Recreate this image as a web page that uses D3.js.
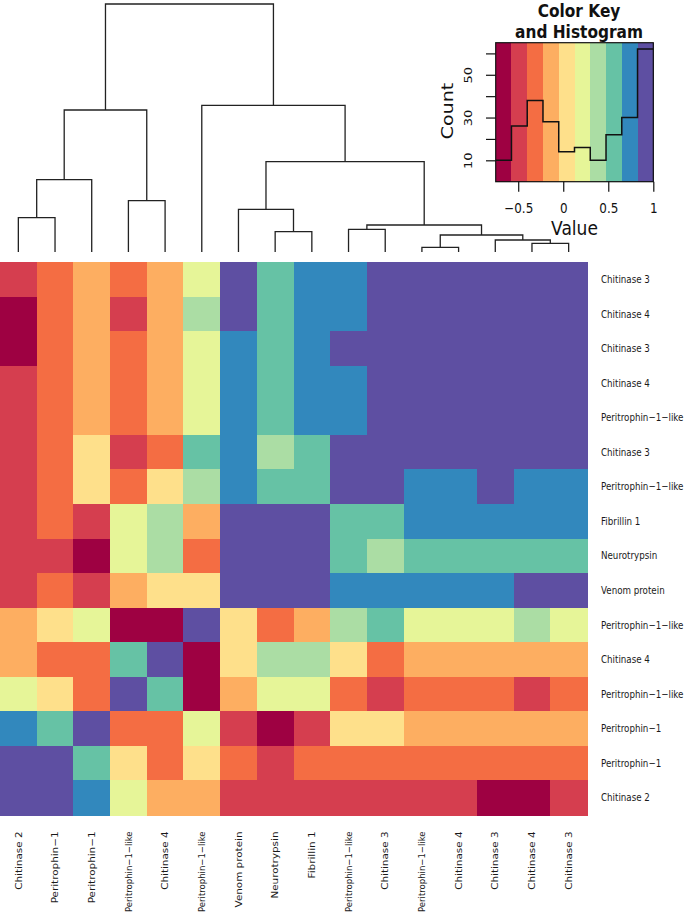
<!DOCTYPE html>
<html>
<head>
<meta charset="utf-8">
<script src="https://cdn.jsdelivr.net/npm/d3@7"></script>
<style>
  html, body { margin: 0; padding: 0; background: #fff; }
  svg { display: block; font-family: "DejaVu Sans", sans-serif; }
</style>
</head>
<body>
<svg id="chart" width="685" height="913"></svg>
<script>
// ---------------- data ----------------
const colLabels = ["Chitinase 2", "Peritrophin\u22121", "Peritrophin\u22121", "Peritrophin\u22121\u2212like",
  "Chitinase 4", "Peritrophin\u22121\u2212like", "Venom protein", "Neurotrypsin", "Fibrillin 1",
  "Peritrophin\u22121\u2212like", "Chitinase 3", "Peritrophin\u22121\u2212like", "Chitinase 4",
  "Chitinase 3", "Chitinase 4", "Chitinase 3"];

const rowLabels = ["Chitinase 3", "Chitinase 4", "Chitinase 3", "Chitinase 4", "Peritrophin\u22121\u2212like",
  "Chitinase 3", "Peritrophin\u22121\u2212like", "Fibrillin 1", "Neurotrypsin", "Venom protein",
  "Peritrophin\u22121\u2212like", "Chitinase 4", "Peritrophin\u22121\u2212like", "Peritrophin\u22121",
  "Peritrophin\u22121", "Chitinase 2"];

// correlation values, rows top->bottom, columns left->right (as displayed)
const values = [
  [-0.49,-0.31,-0.14,-0.31,-0.14, 0.21, 0.91, 0.56, 0.74, 0.74, 0.91, 0.91, 0.91, 0.91, 0.91, 1.00],
  [-0.66,-0.31,-0.14,-0.49,-0.14, 0.39, 0.91, 0.56, 0.74, 0.74, 0.91, 0.91, 0.91, 0.91, 1.00, 0.91],
  [-0.66,-0.31,-0.14,-0.31,-0.14, 0.21, 0.74, 0.56, 0.74, 0.91, 0.91, 0.91, 0.91, 1.00, 0.91, 0.91],
  [-0.49,-0.31,-0.14,-0.31,-0.14, 0.21, 0.74, 0.56, 0.74, 0.74, 0.91, 0.91, 1.00, 0.91, 0.91, 0.91],
  [-0.49,-0.31,-0.14,-0.31,-0.14, 0.21, 0.74, 0.56, 0.74, 0.74, 0.91, 1.00, 0.91, 0.91, 0.91, 0.91],
  [-0.49,-0.31, 0.04,-0.49,-0.31, 0.56, 0.74, 0.39, 0.56, 0.91, 1.00, 0.91, 0.91, 0.91, 0.91, 0.91],
  [-0.49,-0.31, 0.04,-0.31, 0.04, 0.39, 0.74, 0.56, 0.56, 1.00, 0.91, 0.74, 0.74, 0.91, 0.74, 0.74],
  [-0.49,-0.31,-0.49, 0.21, 0.39,-0.14, 0.91, 0.91, 1.00, 0.56, 0.56, 0.74, 0.74, 0.74, 0.74, 0.74],
  [-0.49,-0.49,-0.66, 0.21, 0.39,-0.31, 0.91, 1.00, 0.91, 0.56, 0.39, 0.56, 0.56, 0.56, 0.56, 0.56],
  [-0.49,-0.31,-0.49,-0.14, 0.04, 0.04, 1.00, 0.91, 0.91, 0.74, 0.74, 0.74, 0.74, 0.74, 0.91, 0.91],
  [-0.14, 0.04, 0.21,-0.66,-0.66, 1.00, 0.04,-0.31,-0.14, 0.39, 0.56, 0.21, 0.21, 0.21, 0.39, 0.21],
  [-0.14,-0.31,-0.31, 0.56, 1.00,-0.66, 0.04, 0.39, 0.39, 0.04,-0.31,-0.14,-0.14,-0.14,-0.14,-0.14],
  [ 0.21, 0.04,-0.31, 1.00, 0.56,-0.66,-0.14, 0.21, 0.21,-0.31,-0.49,-0.31,-0.31,-0.31,-0.49,-0.31],
  [ 0.74, 0.56, 1.00,-0.31,-0.31, 0.21,-0.49,-0.66,-0.49, 0.04, 0.04,-0.14,-0.14,-0.14,-0.14,-0.14],
  [ 0.91, 1.00, 0.56, 0.04,-0.31, 0.04,-0.31,-0.49,-0.31,-0.31,-0.31,-0.31,-0.31,-0.31,-0.31,-0.31],
  [ 1.00, 0.91, 0.74, 0.21,-0.14,-0.14,-0.49,-0.49,-0.49,-0.49,-0.49,-0.49,-0.49,-0.66,-0.66,-0.49]
];

// column dendrogram (hclust style: negative = leaf column number, positive = earlier merge)
const merges = [[-12,-13],[-15,-16],[-14,2],[1,3],[-8,-9],[-10,-11],[6,4],[-1,-2],
  [-7,5],[-4,-5],[8,-3],[9,7],[11,10],[-6,12],[13,14]];
const mergeHeights = [0.047,0.087,0.12,0.17,0.203,0.227,0.27,0.343,0.427,0.513,0.723,0.903,1.42,1.467,2.48];

const keyBreaks = [-0.75,-0.575,-0.4,-0.225,-0.05,0.125,0.3,0.475,0.65,0.825,1];
const palette = ["#9e0142","#d53e4f","#f46d43","#fdae61","#fee08b","#e6f598","#abdda4","#66c2a5","#3288bd","#5e4fa2"];
const valueTicks = [-0.5, 0, 0.5, 1];
const countTicks = [10, 20, 30, 40, 50, 60];
const countTickLabels = [10, 30, 50];

// ---------------- drawing ----------------
const SQ = 0.855; // horizontal text squash of the reference
const svg = d3.select("#chart");
const n = colLabels.length;

const x = d3.scaleBand().domain(d3.range(n)).range([0, 587]);
const y = d3.scaleBand().domain(d3.range(rowLabels.length)).range([262, 815]);
const color = d3.scaleThreshold().domain(keyBreaks.slice(1, -1)).range(palette);

// heatmap cells
const cells = [];
values.forEach((row, r) => row.forEach((v, c) => cells.push({r, c, v})));
svg.append("g").attr("shape-rendering", "crispEdges")
  .selectAll("rect").data(cells).join("rect")
  .attr("x", d => x(d.c)).attr("y", d => y(d.r))
  .attr("width", x.bandwidth() + 0.5).attr("height", y.bandwidth() + 0.5)
  .attr("fill", d => color(d.v));

// row labels
svg.append("g").selectAll("text").data(rowLabels).join("text")
  .attr("transform", (d, i) => `translate(601,${y(i) + y.bandwidth() / 2}) scale(${SQ},1)`)
  .attr("dy", "0.36em").attr("font-size", 10.2).attr("fill", "#1a1a1a")
  .text(d => d);

// column labels
const colText = svg.append("g").selectAll("text").data(colLabels).join("text")
  .attr("transform", (d, i) => `translate(${x(i) + x.bandwidth() / 2},831.5) scale(${SQ},1) rotate(-90)`)
  .attr("dy", "0.36em").attr("text-anchor", "end").attr("font-size", 10.4).attr("fill", "#1a1a1a")
  .text(d => d);
const maxColLen = 913 - 831.5 - 1;
colText.each(function () {
  const len = this.getComputedTextLength();
  if (len > maxColLen) {
    d3.select(this).attr("textLength", maxColLen).attr("lengthAdjust", "spacingAndGlyphs");
  }
});

// dendrogram
const hy = d3.scaleLinear().domain([0, d3.max(mergeHeights)]).range([252, 4]);
const nodes = [];
const pos = c => c < 0 ? {x: x(-c - 1) + x.bandwidth() / 2, h: 0} : nodes[c - 1];
const dPaths = [];
merges.forEach((m, k) => {
  const a = pos(m[0]), b = pos(m[1]), h = mergeHeights[k];
  nodes.push({x: (a.x + b.x) / 2, h});
  const p = d3.path();
  p.moveTo(a.x, hy(a.h)); p.lineTo(a.x, hy(h)); p.lineTo(b.x, hy(h)); p.lineTo(b.x, hy(b.h));
  dPaths.push(p.toString());
});
svg.append("g").selectAll("path").data(dPaths).join("path")
  .attr("d", d => d).attr("fill", "none").attr("stroke", "#222").attr("stroke-width", 1.3);

// ---------------- color key ----------------
const kx = d3.scaleLinear().domain([keyBreaks[0], keyBreaks[keyBreaks.length - 1]]).range([495.7, 653.3]);
const ky = d3.scaleLinear().domain([0, 65]).range([181.7, 42.7]);
const key = svg.append("g");

key.append("g").attr("shape-rendering", "crispEdges").selectAll("rect").data(palette).join("rect")
  .attr("x", (d, i) => kx(keyBreaks[i])).attr("width", (d, i) => kx(keyBreaks[i + 1]) - kx(keyBreaks[i]) + 0.4)
  .attr("y", ky(65)).attr("height", ky(0) - ky(65)).attr("fill", d => d);

// histogram of values
const bins = d3.bin().domain([keyBreaks[0], keyBreaks[keyBreaks.length - 1]])
  .thresholds(keyBreaks.slice(1, -1))(values.flat());
const stepPts = bins.map(b => [b.x0, b.length]);
stepPts.push([bins[bins.length - 1].x1, bins[bins.length - 1].length]);
const stepLine = d3.line().x(d => kx(d[0])).y(d => ky(d[1])).curve(d3.curveStepAfter);
key.append("path").attr("d", stepLine(stepPts)).attr("fill", "none")
  .attr("stroke", "#111").attr("stroke-width", 1.5);

key.append("rect").attr("x", kx.range()[0]).attr("y", ky(65))
  .attr("width", kx.range()[1] - kx.range()[0]).attr("height", ky(0) - ky(65))
  .attr("fill", "none").attr("stroke", "#111").attr("stroke-width", 1.2);

// x axis of key
const xAxis = key.append("g").attr("transform", `translate(0,${ky(0)})`)
  .call(d3.axisBottom(kx).tickValues(valueTicks).tickSize(10).tickFormat(d3.format("")));
xAxis.select(".domain").remove();
xAxis.selectAll("line").attr("stroke", "#111").attr("stroke-width", 1.2);
xAxis.selectAll("text").attr("y", 31.5).attr("dy", null)
  .attr("transform", `scale(${SQ},1)`).attr("font-size", 14).attr("font-family", "DejaVu Sans")
  .attr("fill", "#111");

// y axis of key
const yAxis = key.append("g").attr("transform", `translate(${kx.range()[0]},0)`)
  .call(d3.axisLeft(ky).tickValues(countTicks).tickSize(9.7)
    .tickFormat(d => countTickLabels.includes(d) ? d : ""));
yAxis.select(".domain").remove();
yAxis.selectAll("line").attr("stroke", "#111").attr("stroke-width", 1.2);
yAxis.selectAll("text").attr("x", null).attr("dy", "0.36em").attr("text-anchor", "middle")
  .attr("transform", `translate(-27.7,0) scale(${SQ},1) rotate(-90)`)
  .attr("font-size", 13).attr("font-family", "DejaVu Sans").attr("fill", "#111");

// key titles
key.append("text").attr("transform", `translate(579,17) scale(${SQ},1)`)
  .attr("text-anchor", "middle").attr("font-weight", "bold").attr("font-size", 18).attr("fill", "#111")
  .text("Color Key");
key.append("text").attr("transform", `translate(579,37.5) scale(${SQ},1)`)
  .attr("text-anchor", "middle").attr("font-weight", "bold").attr("font-size", 18).attr("fill", "#111")
  .text("and Histogram");
key.append("text").attr("transform", `translate(574.5,235) scale(${SQ},1)`)
  .attr("text-anchor", "middle").attr("font-size", 20).attr("fill", "#111").text("Value");
key.append("text").attr("transform", `translate(447.5,111) scale(${SQ},1) rotate(-90)`)
  .attr("text-anchor", "middle").attr("dy", "0.36em").attr("font-size", 19).attr("fill", "#111").text("Count");
</script>
</body>
</html>
